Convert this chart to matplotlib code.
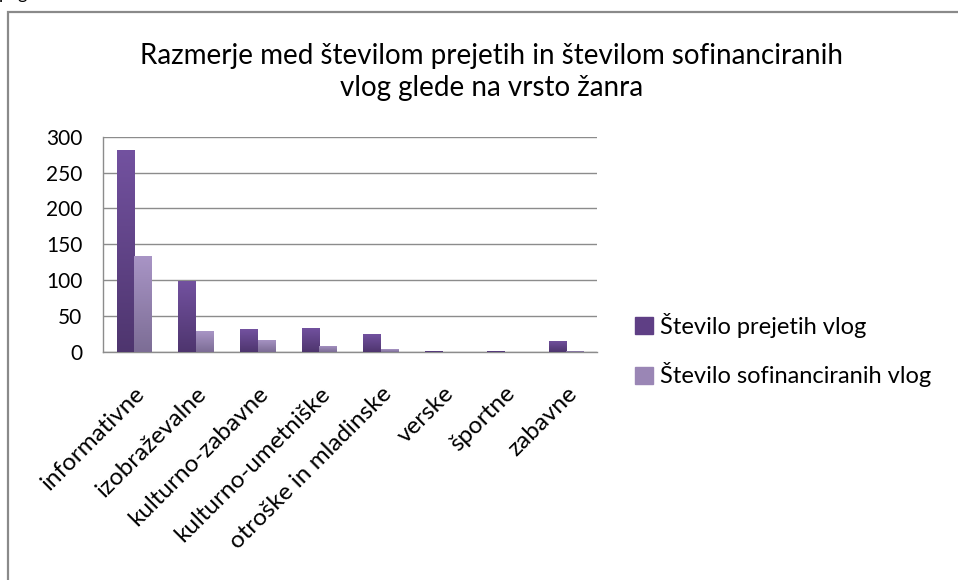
import numpy as np
import matplotlib
matplotlib.use("Agg")
import matplotlib.pyplot as plt
from matplotlib.patches import Rectangle
from matplotlib.colors import LinearSegmentedColormap

plt.rcParams['font.family'] = ['Lato', 'DejaVu Sans']

categories = ["informativne", "izobraževalne", "kulturno-zabavne", "kulturno-umetniške",
              "otroške in mladinske", "verske", "športne", "zabavne"]
prejete = [282, 99, 32, 34, 25, 2, 2, 16]
sofinancirane = [134, 29, 17, 9, 4, 0, 0, 2]
series_labels = ["Število prejetih vlog", "Število sofinanciranih vlog"]
title = "Razmerje med številom prejetih in številom sofinanciranih\nvlog glede na vrsto žanra"
yticks = [0, 50, 100, 150, 200, 250, 300]

W, H = 958, 580
fig = plt.figure(figsize=(W / 100, H / 100), dpi=100)
fig.patch.set_facecolor("white")

# outer chart frame (extends beyond right/bottom edge)
fig.patches.append(Rectangle((8 / W, -0.1), 1.2, 1 - 12 / H + 0.1, transform=fig.transFigure,
                             fill=False, edgecolor="#8a8a8a", linewidth=1.6, zorder=0))
# text of the surrounding document, cut off at the top edge
fig.text(-1 / W, 1 + 1 / H, "pogl", fontsize=13, va="baseline", ha="left", color="black")

ax = fig.add_axes([103.3 / W, 1 - 352 / H, (597 - 103.3) / W, (352 - 136.7) / H])
ax.set_facecolor("none")

x = np.arange(len(categories))
bw = 1 / 3.5
b1 = ax.bar(x - bw / 2, prejete, bw, color="#5f3f85", label=series_labels[0], zorder=3)
b2 = ax.bar(x + bw / 2, sofinancirane, bw, color="#9a86b5", label=series_labels[1], zorder=3)

cm1 = LinearSegmentedColormap.from_list("d", ["#4e356e", "#7352a0"])
cm2 = LinearSegmentedColormap.from_list("l", ["#7c6d95", "#a995c6"])
grad = np.linspace(0, 1, 256).reshape(-1, 1)
for cont, cm in ((b1, cm1), (b2, cm2)):
    for r in cont:
        x0, y0 = r.get_x(), r.get_y()
        w, h = r.get_width(), r.get_height()
        if h <= 0:
            continue
        im = ax.imshow(grad, cmap=cm, origin="lower", aspect="auto",
                       extent=(x0, x0 + w, y0, y0 + h), zorder=3)
        im.set_clip_path(r)
        r.set_facecolor("none")
        r.set_edgecolor("none")

ax.set_xlim(-0.5, len(categories) - 0.5)
ax.set_ylim(0, 300)
ax.set_yticks(yticks)
ax.set_yticklabels([str(v) for v in yticks], fontsize=15)
ax.tick_params(axis="y", length=0, pad=15)
ax.yaxis.grid(True, color="#8c8c8c", linewidth=1.0, zorder=0)
ax.set_axisbelow(True)
for s in ("top", "right"):
    ax.spines[s].set_visible(False)
for s in ("left", "bottom"):
    ax.spines[s].set_color("#8c8c8c")
    ax.spines[s].set_linewidth(1.0)

ax.set_xticks(x)
ax.set_xticklabels(categories, rotation=45, ha="right", rotation_mode="anchor", fontsize=17.5)
ax.tick_params(axis="x", length=0, pad=22)

fig.text(492 / W, 1 - 72 / H, title, ha="center", va="center", fontsize=20,
         linespacing=1.3, color="black")

leg = fig.legend(handles=[b1, b2], labels=series_labels, loc="center left",
                 bbox_to_anchor=(614 / W, 1 - 350 / H), frameon=False, fontsize=17,
                 handlelength=0.75, handleheight=0.75, handletextpad=0.3, labelspacing=1.05)
for h, c in zip(leg.legend_handles, ["#5f3f85", "#9a86b5"]):
    h.set_facecolor(c)
    h.set_edgecolor(c)

fig.savefig("out.png", dpi=100)
